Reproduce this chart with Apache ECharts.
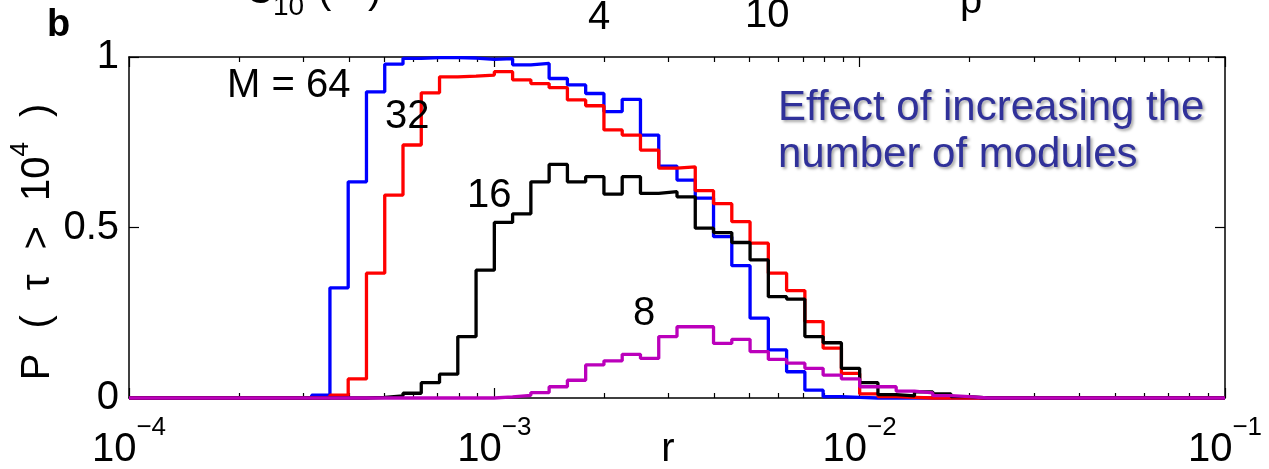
<!DOCTYPE html>
<html>
<head>
<meta charset="utf-8">
<script src="https://cdn.jsdelivr.net/npm/echarts@6/dist/echarts.min.js"></script>
<style>
  html, body { margin: 0; padding: 0; background: #fff; }
  #chart { width: 1269px; height: 469px; }
</style>
</head>
<body>
<div id="chart"></div>
<script>
// Histogram binning: bins 0.05 decades wide in log10(r), first bin starts at 10^-3.60
const binLogStart = -3.60;
const binLogWidth = 0.05;

// P(tau > 10^4) in each bin, one array per number of modules M
const pM64 = [0, 0, 0.008, 0.323, 0.634, 0.898, 0.979, 0.996, 0.998, 0.998,
              0.997, 0.993, 0.995, 0.977, 0.981, 0.937, 0.918, 0.893, 0.840, 0.876,
              0.771, 0.680, 0.639, 0.586, 0.473, 0.388, 0.234, 0.141, 0.077, 0.023,
              0.004, 0.002, 0, 0, 0, 0, 0, 0, 0, 0];
const pM32 = [0, 0, 0, 0.008, 0.056, 0.366, 0.595, 0.742, 0.895, 0.942,
              0.944, 0.947, 0.957, 0.933, 0.922, 0.910, 0.874, 0.857, 0.786, 0.771,
              0.727, 0.674, 0.678, 0.608, 0.570, 0.517, 0.454, 0.366, 0.315, 0.224,
              0.146, 0.072, 0.012, 0.004, 0.002, 0, 0, 0, 0, 0];
const pM16 = [0, 0, 0, 0, 0, 0.002, 0.006, 0.014, 0.045, 0.070,
              0.180, 0.375, 0.515, 0.540, 0.634, 0.685, 0.634, 0.649, 0.598, 0.649,
              0.600, 0.605, 0.590, 0.498, 0.485, 0.456, 0.405, 0.297, 0.290, 0.180,
              0.162, 0.087, 0.045, 0.010, 0.006, 0.018, 0.012, 0.004, 0, 0];
const pM8  = [0, 0, 0, 0, 0, 0, 0, 0, 0, 0,
              0, 0, 0.003, 0.008, 0.016, 0.033, 0.052, 0.097, 0.109, 0.128,
              0.116, 0.180, 0.209, 0.209, 0.160, 0.172, 0.136, 0.113, 0.102, 0.087,
              0.067, 0.056, 0.033, 0.033, 0.020, 0.015, 0.007, 0.004, 0, 0];

const seriesNames  = ['M = 64', '32', '16', '8'];
const seriesColors = ['#0000FF', '#FF0000', '#000000', '#BB00BB'];

// axis ticks
const xMin = 1e-4, xMax = 1e-1;
const xDecadeTicks = [1e-4, 1e-3, 1e-2, 1e-1];
const xMinorTicks = [];
[-4, -3, -2].forEach(k => { for (let m = 2; m <= 9; m++) xMinorTicks.push(m * Math.pow(10, k)); });
const yTicks = [0, 0.5, 1];

const FONT = 'Liberation Sans, Arial, Helvetica, sans-serif';

// Convert per-bin values to step-line vertices (left edge of each bin), with zero tails
function histSteps(values) {
  const pts = [[xMin, 0]];
  values.forEach((v, i) => pts.push([Math.pow(10, binLogStart + i * binLogWidth), v]));
  pts.push([Math.pow(10, binLogStart + values.length * binLogWidth), 0]);
  pts.push([xMax, 0]);
  return pts;
}

const supRich = {
  b: { fontSize: 40, lineHeight: 55, verticalAlign: 'bottom', fontFamily: FONT, color: '#000' },
  s: { fontSize: 26, lineHeight: 26, verticalAlign: 'top', fontFamily: FONT, color: '#000' }
};

function logAxis(position, ticks, tickLen, showLine, showLabel) {
  return {
    type: 'log', logBase: 10, min: xMin, max: xMax, position: position,
    axisLine: { show: showLine, onZero: false, lineStyle: { color: '#000', width: 1.5 } },
    axisTick: { show: true, inside: true, length: tickLen, customValues: ticks,
                lineStyle: { color: '#000', width: 1.2 } },
    axisLabel: showLabel ? {
      show: true, customValues: xDecadeTicks, margin: 17,
      formatter: v => '{b|10}{s|\u2212' + Math.round(-Math.log10(v)) + '}',
      rich: supRich
    } : { show: false },
    splitLine: { show: false },
    minorTick: { show: false }
  };
}

const xAxes = [
  logAxis('bottom', xDecadeTicks, 10, true, true),
  logAxis('bottom', xMinorTicks, 5, false, false),
  logAxis('top', xDecadeTicks, 10, true, false),
  logAxis('top', xMinorTicks, 5, false, false)
];

const yAxes = [
  {
    type: 'value', min: 0, max: 1, interval: 0.5, position: 'left',
    axisLine: { show: true, lineStyle: { color: '#000', width: 1.5 } },
    axisTick: { show: true, inside: true, length: 10, customValues: yTicks, lineStyle: { color: '#000', width: 1.2 } },
    axisLabel: { show: true, customValues: yTicks, margin: 10, fontSize: 40, fontFamily: FONT, color: '#000',
                 formatter: v => String(v) },
    splitLine: { show: false }
  },
  {
    type: 'value', min: 0, max: 1, interval: 0.5, position: 'right',
    axisLine: { show: true, lineStyle: { color: '#000', width: 1.5 } },
    axisTick: { show: true, inside: true, length: 10, customValues: yTicks, lineStyle: { color: '#000', width: 1.2 } },
    axisLabel: { show: false },
    splitLine: { show: false }
  }
];

const dataSets = [pM64, pM32, pM16, pM8];
const series = dataSets.map((vals, i) => ({
  name: seriesNames[i],
  type: 'line',
  step: 'end',
  xAxisIndex: 0, yAxisIndex: 0,
  showSymbol: false,
  clip: false,
  animation: false,
  lineStyle: { color: seriesColors[i], width: 3.3 },
  itemStyle: { color: seriesColors[i] },
  data: histSteps(vals),
  z: 2 + i
}));

function txt(x, y, text, size, opts) {
  opts = opts || {};
  return {
    type: 'text', x: x, y: y, z: 10,
    style: Object.assign({
      text: text, fill: '#000',
      font: (opts.weight || 'normal') + ' ' + size + 'px ' + FONT,
      align: opts.align || 'left', verticalAlign: 'middle'
    }, opts.style || {})
  };
}

const annotationStyle = {
  fill: '#30319A', textShadowColor: 'rgba(0,0,0,0.35)', textShadowBlur: 3,
  textShadowOffsetX: 2, textShadowOffsetY: 2
};

// y-axis title, rotated, with superscript exponent
const yTitle = {
  type: 'text', x: 33, y: 242, rotation: Math.PI / 2, z: 10,
  style: {
    text: '{n|P}{g| }{n|(}{g| }{n|\u03C4}{g| }{n|>}{g| }{n|10}{s|4}{g| }{n|)}',
    align: 'center', verticalAlign: 'middle',
    rich: {
      n: { fontSize: 40, lineHeight: 50, verticalAlign: 'bottom', fontFamily: FONT, fill: '#000' },
      s: { fontSize: 26, lineHeight: 26, verticalAlign: 'top', fontFamily: FONT, fill: '#000' },
      g: { fontSize: 40, lineHeight: 50, width: 25, fontFamily: FONT }
    }
  }
};

const graphic = [
  // panel letter
  txt(47, 26, 'b', 38, { weight: 'bold' }),
  // labels of the panel above, clipped by the top edge
  txt(245, -8, 'C', 40),
  txt(273, 7, '10', 28),
  txt(318, -8, '(', 40),
  txt(368, -8, ')', 40),
  txt(599, 18, '4', 40, { align: 'center' }),
  txt(745, 16, '10', 40),
  txt(960, 2, 'p', 40),
  // axis titles
  yTitle,
  txt(668, 450, 'r', 40, { align: 'center' }),
  // curve labels
  txt(227, 86, seriesNames[0], 40),
  txt(385, 117, seriesNames[1], 40),
  txt(467, 196, seriesNames[2], 40),
  txt(633, 314, seriesNames[3], 40),
  // annotation
  txt(778, 108, 'Effect of increasing the', 42, { style: annotationStyle }),
  txt(778, 155, 'number of modules', 42, { style: annotationStyle })
];

const chart = echarts.init(document.getElementById('chart'), null, { renderer: 'canvas' });
chart.setOption({
  animation: false,
  backgroundColor: '#fff',
  grid: { left: 129, right: 44, top: 57, bottom: 71, containLabel: false, outerBoundsMode: 'none' },
  xAxis: xAxes,
  yAxis: yAxes,
  series: series,
  graphic: graphic
});
</script>
</body>
</html>
